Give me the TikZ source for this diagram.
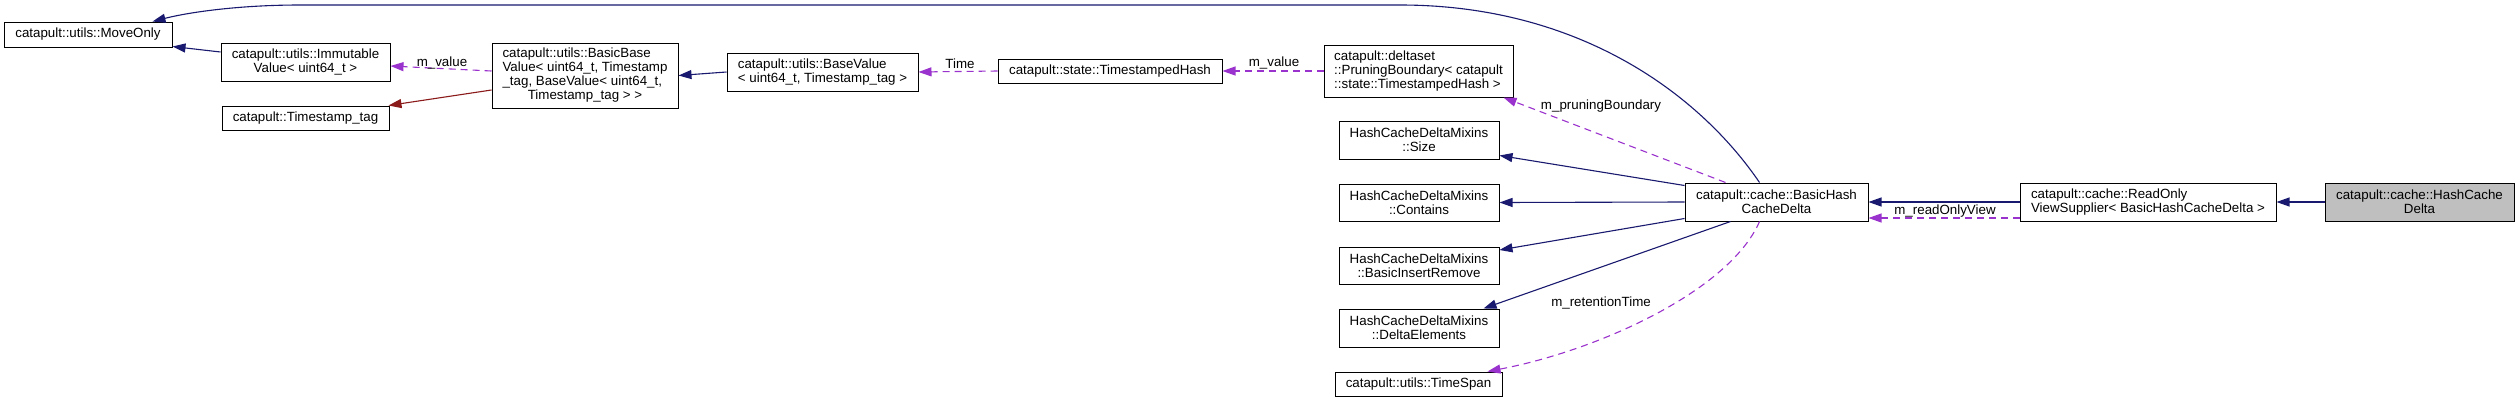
\documentclass[tikz,border=0pt]{standalone}
\usepackage{fontspec}
\setmainfont{Liberation Sans}
\usetikzlibrary{arrows.meta}
\definecolor{inhcol}{HTML}{191970}
\definecolor{usecol}{HTML}{9A32CD}
\definecolor{tplcol}{HTML}{8B1A1A}
\definecolor{curcol}{HTML}{BFBFBF}
\tikzset{
  cls/.style={draw=black, line width=1pt, fill=white, inner sep=0pt, font=\fontsize{13.33}{14}\selectfont},
  clsL/.style={cls, align=left},
  clsC/.style={cls, align=center},
  inh/.style={draw=inhcol, line width=1.1pt, -{Triangle[length=13pt,width=9pt,fill=inhcol]}},
  tpl/.style={draw=tplcol, line width=1.1pt, -{Triangle[length=13pt,width=9pt,fill=tplcol]}},
  use/.style={draw=usecol, line width=1.1pt, dash pattern=on 7pt off 5pt, -{Triangle[length=13pt,width=9pt,fill=usecol]}},
  lbl/.style={font=\fontsize{13.33}{14}\selectfont, inner sep=1pt}
}
\begin{document}
\begin{tikzpicture}[x=1pt,y=-1pt]
\useasboundingbox[fill=white] (0,0) rectangle (2519,402);
% nodes
\node[cls, minimum width=168pt, minimum height=25pt] (mo) at (88,34.5) {catapult::utils::MoveOnly};
\node[clsC, minimum width=169pt, minimum height=38pt] (imm) at (305.5,62) {catapult::utils::Immutable\\Value< uint64\_t >};
\node[cls, minimum width=167pt, minimum height=24pt] (tt) at (305.5,118) {catapult::Timestamp\_tag};
\node[cls, minimum width=186pt, minimum height=65pt] (bbv) at (585,75.5) {\begin{tabular}{@{}l@{}}catapult::utils::BasicBase\\Value< uint64\_t, Timestamp\\\_tag, BaseValue< uint64\_t,\\\multicolumn{1}{@{}c@{}}{Timestamp\_tag > >}\end{tabular}};
\node[clsL, minimum width=191pt, minimum height=38pt] (bv) at (822.5,72) {catapult::utils::BaseValue\\< uint64\_t, Timestamp\_tag >};
\node[cls, minimum width=224pt, minimum height=24pt] (tsh) at (1110,71) {catapult::state::TimestampedHash};
\node[clsL, minimum width=189pt, minimum height=52pt] (pb) at (1418.5,71) {catapult::deltaset\\::PruningBoundary< catapult\\::state::TimestampedHash >};
\node[clsC, minimum width=160pt, minimum height=38pt] (size) at (1419,140) {HashCacheDeltaMixins\\::Size};
\node[clsC, minimum width=160pt, minimum height=37pt] (cont) at (1419,202.5) {HashCacheDeltaMixins\\::Contains};
\node[clsC, minimum width=160pt, minimum height=37pt] (bir) at (1419,265.5) {HashCacheDeltaMixins\\::BasicInsertRemove};
\node[clsC, minimum width=160pt, minimum height=38pt] (de) at (1419,328) {HashCacheDeltaMixins\\::DeltaElements};
\node[cls, minimum width=167pt, minimum height=24pt] (ts) at (1418.5,384) {catapult::utils::TimeSpan};
\node[clsC, minimum width=183pt, minimum height=38pt] (bh) at (1776.5,202) {catapult::cache::BasicHash\\CacheDelta};
\node[clsL, minimum width=256pt, minimum height=38pt] (ro) at (2148,202) {catapult::cache::ReadOnly\\ViewSupplier< BasicHashCacheDelta >};
\node[clsC, fill=curcol, minimum width=189pt, minimum height=38pt] (hcd) at (2419.5,202) {catapult::cache::HashCache\\Delta};
% edges
\draw[inh] ([xshift=75pt]bh.north west) .. controls (1700,95) and (1580,5) .. (1400,5) -- (300,5) .. controls (240,5) and (190,12) .. ([xshift=-20pt]mo.north east);
\draw[inh] ([yshift=10pt]imm.west) -- ([yshift=1pt]mo.south east);
\draw[use] ([yshift=4.5pt]bbv.west) -- ([yshift=-4pt]imm.east);
\node[lbl] (l1) at (442,63) {m\_value};
\draw[tpl] ([yshift=-14.5pt]bbv.west) -- ([xshift=-1pt]tt.north east);
\draw[inh] (bv.west) -- (bbv.east);
\draw[use] (tsh.west) -- (bv.east);
\node[lbl] (l2) at (960,64) {Time};
\draw[use] (pb.west) -- (tsh.east);
\node[lbl] (l3) at (1274,63) {m\_value};
\draw[use] ([xshift=41pt]bh.north west) -- ([xshift=-10pt]pb.south east);
\node[lbl] (l4) at (1601,106) {m\_pruningBoundary};
\draw[inh] ([yshift=-3pt]bh.north west) -- ([yshift=4pt]size.south east);
\draw[inh] (bh.west) -- (cont.east);
\draw[inh] ([yshift=3pt]bh.south west) -- ([yshift=15.5pt]bir.east);
\draw[inh] ([xshift=46pt]bh.south west) -- ([xshift=-16pt]de.north east);
\draw[use] ([xshift=75pt]bh.south west) .. controls (1730,290) and (1600,350) .. ([xshift=-15pt]ts.north east);
\node[lbl] (l5) at (1601,303) {m\_retentionTime};
\draw[inh] (ro.west) -- (bh.east);
\draw[use] ([yshift=-16pt]ro.west) -- ([yshift=-16pt]bh.east);
\node[lbl] (l6) at (1945,211) {m\_readOnlyView};
\draw[inh] (hcd.west) -- (ro.east);
\end{tikzpicture}
\end{document}
